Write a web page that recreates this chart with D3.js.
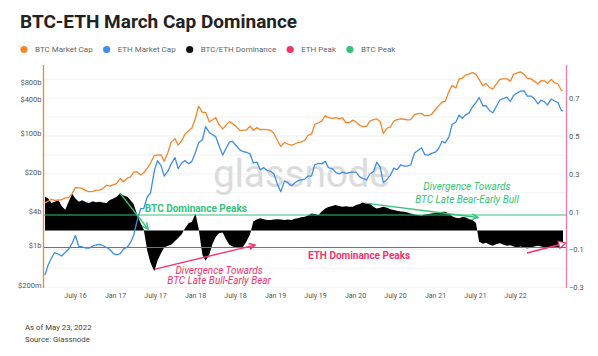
<!DOCTYPE html>
<html><head><meta charset="utf-8">
<script src="https://cdn.jsdelivr.net/npm/d3@7"></script>
<style>body{margin:0;background:#fff} text{font-family:Roboto,"Open Sans",sans-serif}</style>
</head><body><svg id="c" width="598" height="356"></svg>
<script>
const dates = [
"2016-02-01","2016-02-15","2016-03-01","2016-03-15","2016-04-01","2016-04-15","2016-05-01","2016-05-15","2016-06-01","2016-06-15","2016-07-01","2016-07-15","2016-08-01","2016-08-15","2016-09-01","2016-09-15","2016-10-01","2016-10-15","2016-11-01","2016-11-15","2016-12-01","2016-12-15",
"2017-01-01","2017-01-15","2017-02-01","2017-02-15","2017-03-01","2017-03-15","2017-04-01","2017-04-15","2017-05-01","2017-05-15","2017-06-01","2017-06-15","2017-07-01","2017-07-15","2017-08-01","2017-08-15","2017-09-01","2017-09-15","2017-10-01","2017-10-15","2017-11-01","2017-11-15","2017-12-01","2017-12-15",
"2018-01-01","2018-01-15","2018-02-01","2018-02-15","2018-03-01","2018-03-15","2018-04-01","2018-04-15","2018-05-01","2018-05-15","2018-06-01","2018-06-15","2018-07-01","2018-07-15","2018-08-01","2018-08-15","2018-09-01","2018-09-15","2018-10-01","2018-10-15","2018-11-01","2018-11-15","2018-12-01","2018-12-15",
"2019-01-01","2019-01-15","2019-02-01","2019-02-15","2019-03-01","2019-03-15","2019-04-01","2019-04-15","2019-05-01","2019-05-15","2019-06-01","2019-06-15","2019-07-01","2019-07-15","2019-08-01","2019-08-15","2019-09-01","2019-09-15","2019-10-01","2019-10-15","2019-11-01","2019-11-15","2019-12-01","2019-12-15",
"2020-01-01","2020-01-15","2020-02-01","2020-02-15","2020-03-01","2020-03-15","2020-04-01","2020-04-15","2020-05-01","2020-05-15","2020-06-01","2020-06-15","2020-07-01","2020-07-15","2020-08-01","2020-08-15","2020-09-01","2020-09-15","2020-10-01","2020-10-15","2020-11-01","2020-11-15","2020-12-01","2020-12-15",
"2021-01-01","2021-01-15","2021-02-01","2021-02-15","2021-03-01","2021-03-15","2021-04-01","2021-04-15","2021-05-01","2021-05-15","2021-06-01","2021-06-15","2021-07-01","2021-07-15","2021-08-01","2021-08-15","2021-09-01","2021-09-15","2021-10-01","2021-10-15","2021-11-01","2021-11-15","2021-12-01","2021-12-15",
"2022-01-01","2022-01-15","2022-02-01","2022-02-15","2022-03-01","2022-03-15","2022-04-01","2022-04-15","2022-05-01","2022-05-15","2022-05-23"];

// market caps in $ billions
const btcCap = [
5.7,6.1,6.6,6.3,6.4,6.5,7.0,7.0,8.3,10.6,10.5,10.3,9.4,9.0,9.1,9.6,9.6,10.2,11.7,11.3,12.0,12.5,
15.5,13.5,15.6,16.3,19.7,20.4,17.7,19.5,23.5,29,39.5,40,40.5,31,45,68,78,60,72,94,110,120,180,295,
230,230,155,170,185,140,117,135,157,145,128,110,110,112,130,110,123,112,114,113,110,97,72,57,
67,63,60,63,67,68,73,90,94,140,150,160,200,185,180,185,175,184,150,150,167,155,135,128,
130,160,170,175,158,97,120,125,160,170,175,173,168,170,210,218,220,200,200,210,255,295,350,360,
540,690,620,900,920,1050,1100,1160,1080,880,680,750,630,600,740,880,900,900,820,1080,1150,1200,1080,920,
900,820,730,840,830,750,880,770,730,570,560];

const ethCap = [
0.3,0.45,0.6,0.75,0.7,0.65,0.75,0.85,1.1,1.5,0.95,0.95,0.9,0.9,0.98,1.02,1.05,1.0,0.92,0.85,0.72,0.68,
0.72,0.86,0.94,1.12,1.5,2.6,4.5,4.5,7.3,8.5,21,32,26,17,21,28,36,23,29,32,28,31,45,66,
75,128,100,92,85,60,40,52,68,70,58,50,46,45,42,29,30,22,24,21.5,20.5,18.5,12,9,
14,13,11.5,12.8,14,14.5,15,17,17,27,28.5,28,31,24,23,20,18.5,20,19,19.5,20,20,16.5,15.5,
14.5,18.5,20.5,30,24.5,13,15,17.5,23.5,22,27,25.5,25.5,27,43.5,48,54,41,40,43,45,51.5,70,66,
84,140,155,205,180,205,225,285,340,420,300,300,245,225,300,380,405,425,360,455,510,545,550,445,
445,400,325,375,355,310,395,365,340,250,240];

const dominance = [
0.18,0.17,0.145,0.152,0.16,0.13,0.11,0.15,0.195,0.17,0.152,0.16,0.15,0.146,0.155,0.15,0.152,0.148,0.146,0.161,0.17,0.179,
0.197,0.185,0.179,0.16,0.14,0.09,0.04,0.005,-0.11,-0.17,-0.215,-0.16,-0.12,-0.09,-0.08,-0.075,-0.055,-0.04,-0.02,0.01,0.04,0.045,0.09,0.01,
-0.13,-0.16,-0.125,-0.07,-0.035,-0.015,-0.01,-0.045,-0.075,-0.085,-0.094,-0.09,-0.086,-0.06,-0.02,0.047,0.06,0.065,0.06,0.056,0.056,0.058,0.06,0.058,
0.056,0.058,0.056,0.062,0.065,0.07,0.073,0.08,0.09,0.088,0.082,0.1,0.117,0.125,0.13,0.135,0.13,0.126,0.128,0.126,0.126,0.135,0.14,0.148,
0.14,0.145,0.125,0.117,0.12,0.126,0.12,0.112,0.108,0.105,0.1,0.099,0.095,0.09,0.085,0.082,0.08,0.085,0.088,0.09,0.092,0.092,0.098,0.099,
0.09,0.075,0.068,0.065,0.072,0.07,0.06,0.056,0.04,-0.06,-0.07,-0.065,-0.075,-0.08,-0.072,-0.068,-0.075,-0.08,-0.078,-0.085,-0.09,-0.085,-0.09,-0.095,
-0.09,-0.085,-0.08,-0.085,-0.09,-0.088,-0.092,-0.085,-0.09,-0.088,-0.085];

const xTickLabels = ["July 16","Jan 17","July 17","Jan 18","July 18","Jan 19","July 19","Jan 20","July 20","Jan 21","July 21","July 22"];
const leftTickValues = [8e11,4e11,1e11,2e10,4e9,1e9,2e8];
const leftTickLabels = ["$800b","$400b","$100b","$20b","$4b","$1b","$200m"];
const rightTickValues = [0.7,0.5,0.3,0.1,-0.1,-0.3];
const gridValues = [0.8,0.7,0.6,0.5,0.4,0.3,0.2,0.1,0,-0.1,-0.2,-0.3];
const legendLabels = ["BTC Market Cap","ETH Market Cap","BTC/ETH Dominance","ETH Peak","BTC Peak"];
const btcPeakLevel = 0.082;
const ethPeakLevel = -0.09;
// annotation anchors [date, dominance value]
const btcArrows = [[["2016-12-30",0.198],["2017-05-04",0.008]],[["2019-12-25",0.145],["2021-05-10",0.069]]];
const ethArrows = [[["2017-06-04",-0.204],["2018-08-23",-0.077]]];
const ethArrowEnd = [["2021-12-14",-0.119],["2022-06-05",-0.066]];

const C = {btc:"#f5862a", eth:"#3f8ee8", dom:"#000", green:"#33c47a", pink:"#f2336e", pinkAxis:"#f07aa6", text:"#555"};
const W=598,H=356, L=43.5, R=566.5, T=65, B=288;

const parse = d3.utcParse("%Y-%m-%d");
const D = dates.map(parse);
const svg = d3.select("#c");

const x = d3.scaleUtc().domain([D[0], D[D.length-1]]).range([45, 563]);
const yL = d3.scaleLog().domain([1.763e8, 1.585e12]).range([B, T]);
const yR = d3.scaleLinear().domain([-0.3042, 0.8757]).range([B, T]);

// title
svg.append("text").attr("x",20).attr("y",28).attr("font-size",19).attr("font-weight",700).attr("fill","#222").text("BTC-ETH March Cap Dominance");

// legend
const legCol = [C.btc, C.eth, "#111", C.pink, C.green];
let lx = 24;
legendLabels.forEach((t,i)=>{
  svg.append("circle").attr("cx",lx).attr("cy",49.5).attr("r",3.6).attr("fill",legCol[i]);
  const tx = svg.append("text").attr("x",lx+11).attr("y",52.3).attr("font-size",8).attr("fill","#666").text(t);
  lx = lx + 11 + tx.node().getComputedTextLength() + 14;
});

// grid
svg.append("g").selectAll("line").data(gridValues).join("line")
  .attr("x1",L).attr("x2",R).attr("y1",d=>yR(d)).attr("y2",d=>yR(d))
  .attr("stroke","#efefef").attr("stroke-width",0.8);

// watermark
svg.append("text").attr("x",213).attr("y",187).attr("font-family","'Open Sans',sans-serif").attr("font-size",39)
  .attr("textLength",177).attr("lengthAdjust","spacing")
  .attr("fill","#dcdcdc").text("glassnode");

// dominance area
const domData = D.map((d,i)=>({d, v:dominance[i]}));
svg.append("path").datum(domData)
  .attr("d", d3.area().x(p=>x(p.d)).y0(yR(0)).y1(p=>yR(p.v)).curve(d3.curveLinear))
  .attr("fill",C.dom);

// peak lines
svg.append("line").attr("x1",L).attr("x2",R).attr("y1",yR(btcPeakLevel)).attr("y2",yR(btcPeakLevel)).attr("stroke",C.green).attr("stroke-width",1.2);
svg.append("line").attr("x1",L).attr("x2",R).attr("y1",yR(ethPeakLevel)).attr("y2",yR(ethPeakLevel)).attr("stroke",C.pink).attr("stroke-width",1.2);

// caps lines
const line = d3.line().x(p=>x(p.d)).y(p=>yL(p.v*1e9));
svg.append("path").datum(D.map((d,i)=>({d,v:btcCap[i]}))).attr("d",line).attr("fill","none").attr("stroke",C.btc).attr("stroke-width",1.3).attr("stroke-linejoin","round");
svg.append("path").datum(D.map((d,i)=>({d,v:ethCap[i]}))).attr("d",line).attr("fill","none").attr("stroke",C.eth).attr("stroke-width",1.3).attr("stroke-linejoin","round");

// arrow markers
const defs = svg.append("defs");
function chevron(id,col){
  defs.append("marker").attr("id",id).attr("viewBox","0 0 8 8").attr("refX",7).attr("refY",4)
    .attr("markerWidth",8).attr("markerHeight",8).attr("markerUnits","userSpaceOnUse").attr("orient","auto")
    .append("path").attr("d","M1,1 L7,4 L1,7").attr("fill","none").attr("stroke",col).attr("stroke-width",1.4);
}
chevron("ag",C.green); chevron("ap",C.pink);
defs.append("marker").attr("id","at").attr("viewBox","0 0 10 10").attr("refX",9).attr("refY",5)
  .attr("markerWidth",9).attr("markerHeight",9).attr("markerUnits","userSpaceOnUse").attr("orient","auto")
  .append("path").attr("d","M1,1 L9,5 L1,9 Z").attr("fill","#fff").attr("stroke",C.pink).attr("stroke-width",1.3);

const P = a => [x(parse(a[0])), yR(a[1])];
function arrow(a,col,mk){
  const p0=P(a[0]), p1=P(a[1]);
  svg.append("line").attr("x1",p0[0]).attr("y1",p0[1]).attr("x2",p1[0]).attr("y2",p1[1])
    .attr("stroke",col).attr("stroke-width",1.4).attr("marker-end",`url(#${mk})`);
}
btcArrows.forEach(a=>arrow(a,C.green,"ag"));
ethArrows.forEach(a=>arrow(a,C.pink,"ap"));
arrow(ethArrowEnd,C.pink,"at");

// annotation texts
function label(at, txt, col, opts){
  const p=P(at);
  svg.append("text").attr("x",p[0]).attr("y",p[1]).attr("fill",col).attr("font-size",opts.size)
    .attr("font-weight",opts.bold?700:400).attr("font-style",opts.italic?"italic":"normal")
    .attr("text-anchor",opts.anchor||"start").text(txt);
}
label(["2017-04-20",0.098],"BTC Dominance Peaks",C.green,{size:10,bold:true});
label(["2019-04-15",-0.149],"ETH Dominance Peaks",C.pink,{size:10,bold:true});
label(["2021-03-22",0.212],"Divergence Towards",C.green,{size:10,italic:true,anchor:"middle"});
label(["2021-03-22",0.148],"BTC Late Bear-Early Bull",C.green,{size:10,italic:true,anchor:"middle"});
label(["2018-03-16",-0.228],"Divergence Towards",C.pink,{size:10,italic:true,anchor:"middle"});
label(["2018-03-16",-0.283],"BTC Late Bull-Early Bear",C.pink,{size:10,italic:true,anchor:"middle"});

// axes
svg.append("line").attr("x1",L).attr("x2",L).attr("y1",T).attr("y2",B).attr("stroke",C.btc).attr("stroke-width",1.3);
svg.append("line").attr("x1",R).attr("x2",R).attr("y1",T).attr("y2",B).attr("stroke",C.pinkAxis).attr("stroke-width",1.3);

const gl = svg.append("g").attr("transform",`translate(${L-2},0)`)
  .call(d3.axisLeft(yL).tickValues(leftTickValues).tickFormat((d,i)=>leftTickLabels[i]).tickSize(0).tickPadding(0));
gl.select(".domain").remove();
gl.selectAll("text").attr("font-size",7.5).attr("fill",C.text).attr("font-family","Roboto,sans-serif");

const gr = svg.append("g").attr("transform",`translate(${R+2.5},0)`)
  .call(d3.axisRight(yR).tickValues(rightTickValues).tickFormat(d3.format(".1f")).tickSize(0).tickPadding(0));
gr.select(".domain").remove();
gr.selectAll("text").attr("font-size",7.5).attr("fill",C.text).attr("font-family","Roboto,sans-serif");

const xs = d3.scalePoint().domain(xTickLabels).range([75,515]);
const gx = svg.append("g").attr("transform",`translate(0,${B+2})`)
  .call(d3.axisBottom(xs).tickSize(0).tickPadding(3));
gx.select(".domain").remove();
gx.selectAll("text").attr("font-size",7).attr("fill",C.text).attr("font-family","Roboto,sans-serif");

// footer
svg.append("text").attr("x",25).attr("y",330).attr("font-size",7.8).attr("fill","#444").text("As of May 23, 2022");
svg.append("text").attr("x",25).attr("y",342).attr("font-size",7.8).attr("fill","#444").text("Source: Glassnode");
</script></body></html>
